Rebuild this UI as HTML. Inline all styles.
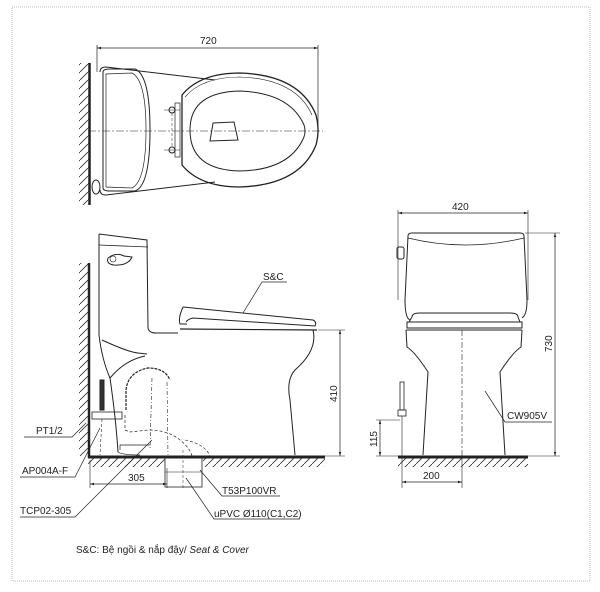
<!DOCTYPE html>
<html><head><meta charset="utf-8"><style>
html,body{margin:0;padding:0;background:#fff;width:600px;height:592px;overflow:hidden}
svg{display:block}
text{font-family:"Liberation Sans",sans-serif;fill:#222}
</style></head><body>
<svg width="600" height="592" viewBox="0 0 600 592" xmlns="http://www.w3.org/2000/svg">
<defs>
<pattern id="h" width="8" height="8" patternUnits="userSpaceOnUse"><path d="M0 8 L8 0" stroke="#333" stroke-width="0.8"/></pattern>
<marker id="a" viewBox="0 0 10 10" refX="10" refY="5" markerWidth="6" markerHeight="6" orient="auto-start-reverse"><path d="M0 2 L10 5 L0 8 z" fill="#222"/></marker>
</defs>
<rect x="12" y="7" width="578" height="574" fill="none" stroke="#bbb" stroke-width="1" stroke-dasharray="1 1"/>

<g fill="none" stroke="#222" stroke-width="1">
<!-- TOP VIEW -->
<rect x="79" y="63" width="10" height="142" fill="url(#h)" stroke="none"/>
<line x1="89.5" y1="63" x2="89.5" y2="205" stroke-width="2.5"/>
<line x1="97" y1="45" x2="97" y2="72" stroke-width="0.7"/>
<line x1="318" y1="45" x2="318" y2="132" stroke-width="0.7"/>
<line x1="97" y1="48" x2="318" y2="48" stroke-width="0.7" marker-start="url(#a)" marker-end="url(#a)"/>
<path d="M100 72 Q100 67 106 67 L215 80"/>
<path d="M100 190 Q100 195 106 195 L215 182"/>
<path d="M103 72 Q103 69 110 69 L135 69 Q150 75 150 130 Q150 186 135 191 L110 191 Q103 191 103 188 Z"/>
<path d="M106 74 L132 73 Q146 80 146 130 Q146 181 132 188 L106 187 Z" stroke-width="0.7"/>
<ellipse cx="96" cy="187" rx="4" ry="7"/>
<path d="M182 95 Q200 73 240 73 Q300 75 316 115 Q320 130 316 145 Q300 185 240 187 Q200 187 182 165 Z" stroke-width="1.3"/>
<path d="M185 97 Q202 77 240 77 Q296 79 312 115" stroke-width="0.6"/>
<path d="M190 130 Q190 92 240 91 Q290 93 304 125 Q306 131 304 137 Q290 170 240 171 Q190 170 190 130 Z"/>
<path d="M213 123 L234 122 L238 140 L210 141 Z"/>
<rect x="175" y="103" width="5" height="54" stroke-width="0.7"/>
<circle cx="172" cy="110" r="3"/><circle cx="172" cy="150" r="3"/>
<line x1="164" y1="110" x2="180" y2="110" stroke-width="0.5"/>
<line x1="164" y1="150" x2="180" y2="150" stroke-width="0.5"/>
<line x1="172" y1="113" x2="172" y2="147" stroke-width="0.5" stroke-dasharray="3 2"/>
<line x1="88" y1="131" x2="323" y2="131" stroke-width="0.6" stroke-dasharray="8 2 2 2"/>

<!-- SIDE VIEW -->
<rect x="79" y="263" width="9" height="193" fill="url(#h)" stroke="none"/>
<rect x="88" y="458" width="77" height="9" fill="url(#h)" stroke="none"/>
<rect x="203" y="458" width="122" height="9" fill="url(#h)" stroke="none"/>
<line x1="89" y1="263" x2="89" y2="458" stroke-width="2.5"/>
<line x1="88" y1="457" x2="325" y2="457" stroke-width="3"/>
<path d="M99 234 L147 240 L148 328 Q149 333 156 333 L178 333"/>
<line x1="99" y1="245" x2="148" y2="247" stroke-width="0.8"/>
<path d="M99 234 L99 335 Q102 360 110 378 Q116 420 118 452"/>
<path d="M108 258 Q116 252 124 256 L132 257 Q128 266 114 265 Q106 264 108 258 Z"/>
<circle cx="113" cy="259" r="3" stroke-width="0.6"/>
<path d="M102 340 Q128 352 138 353 L147 354"/>
<path d="M110 378 Q125 360 145 356"/>
<path d="M183 307 L313 320 Q317 322 315 326 L193 318 Q188 319 186 322"/>
<path d="M183 307 Q178 318 180 324 L187 324"/>
<line x1="180" y1="329" x2="317" y2="330" stroke-width="1.2"/>
<path d="M313 330 Q318 350 295 370 Q286 380 290 400 L295 455"/>
<path d="M118 452 Q122 455 140 455" stroke-width="0.7"/>
<!-- trapway -->
<path d="M126 410 L126 390 Q128 372 148 368 Q165 368 170 380" stroke-width="1.2" stroke-dasharray="3 1"/>
<path d="M125 415 L125 430 L130 432 L148 430 Q168 430 180 440 Q190 448 192 456" stroke-dasharray="3 2" stroke-width="0.7"/>
<line x1="152" y1="378" x2="150" y2="450" stroke-dasharray="4 2 1 2" stroke-width="0.6"/>
<line x1="167" y1="382" x2="168" y2="455" stroke-dasharray="4 2 1 2" stroke-width="0.6"/>
<path d="M185 440 Q205 444 210 456" stroke-dasharray="3 2" stroke-width="0.6"/>
<path d="M120 450 L120 445 L150 445" stroke-width="0.7"/>
<rect x="100" y="380" width="4" height="30" fill="#333"/>
<rect x="92" y="412" width="30" height="7" stroke-width="0.8"/>
<line x1="102" y1="419" x2="100" y2="455" stroke-dasharray="3 2" stroke-width="0.6"/>
<!-- drain pipe -->
<rect x="165" y="457" width="37" height="30" stroke-width="0.8"/>
<line x1="165" y1="472" x2="202" y2="472" stroke-width="0.6"/>
<line x1="183" y1="450" x2="183" y2="490" stroke-width="0.5" stroke-dasharray="3 2"/>
<!-- dims side -->
<line x1="318" y1="330" x2="345" y2="330" stroke-width="0.6"/>
<line x1="325" y1="456" x2="345" y2="456" stroke-width="0.6"/>
<line x1="340" y1="330" x2="340" y2="456" stroke-width="0.7" marker-start="url(#a)" marker-end="url(#a)"/>
<line x1="90" y1="460" x2="90" y2="488" stroke-width="0.6"/>
<line x1="167" y1="468" x2="167" y2="488" stroke-width="0.6"/>
<line x1="90" y1="484" x2="167" y2="484" stroke-width="0.7" marker-start="url(#a)" marker-end="url(#a)"/>
<!-- leaders -->
<polyline points="24,437 72,437 86,423" stroke-width="0.7"/>
<polyline points="20,477 75,477 100,428" stroke-width="0.7"/>
<polyline points="20,517 75,517 152,440" stroke-width="0.7"/>
<polyline points="280,496 222,496 200,470" stroke-width="0.7"/>
<polyline points="300,519 214,519 186,478" stroke-width="0.7"/>
<polyline points="287,282 262,282 243,313" stroke-width="0.7"/>

<!-- FRONT VIEW -->
<line x1="398" y1="210" x2="398" y2="300" stroke-width="0.6"/>
<line x1="528" y1="210" x2="528" y2="300" stroke-width="0.6"/>
<line x1="398" y1="213" x2="528" y2="213" stroke-width="0.7" marker-start="url(#a)" marker-end="url(#a)"/>
<path d="M408 236 Q408 233 412 233 L520 233 Q524 233 524 236 L527 300 Q527 315 522 318"/>
<path d="M408 236 L405 300 Q405 318 410 320"/>
<path d="M408 238 Q465 252 524 238" stroke-width="0.7"/>
<rect x="397" y="247" width="7" height="12" rx="2"/>
<path d="M412 317 Q412 313 420 313 L510 313 Q518 313 518 317 L520 322 L409 322 Z"/>
<path d="M407 322 L522 322 L522 328 L407 328 Z"/>
<path d="M406 330 L407 347 Q415 352 428 372 L423 455"/>
<path d="M522 330 L521 347 Q513 352 500 372 L505 455"/>
<line x1="406" y1="330" x2="522" y2="330"/>
<rect x="398" y="457" width="130" height="10" fill="url(#h)" stroke="none"/>
<line x1="398" y1="457" x2="528" y2="457" stroke-width="3"/>
<line x1="462" y1="330" x2="462" y2="460" stroke-width="0.6" stroke-dasharray="6 2 2 2"/>
<rect x="400" y="382" width="4" height="28" stroke-width="0.8"/>
<rect x="398" y="410" width="8" height="6" stroke-width="0.8"/>
<line x1="402" y1="416" x2="402" y2="488" stroke-width="0.6"/>
<line x1="462" y1="460" x2="462" y2="488" stroke-width="0.6"/>
<line x1="402" y1="482" x2="462" y2="482" stroke-width="0.7" marker-start="url(#a)" marker-end="url(#a)"/>
<line x1="376" y1="420" x2="400" y2="420" stroke-width="0.6"/>
<line x1="376" y1="456" x2="398" y2="456" stroke-width="0.6"/>
<line x1="380" y1="420" x2="380" y2="456" stroke-width="0.7" marker-start="url(#a)" marker-end="url(#a)"/>
<line x1="525" y1="233" x2="560" y2="233" stroke-width="0.6"/>
<line x1="528" y1="456" x2="560" y2="456" stroke-width="0.6"/>
<line x1="555" y1="233" x2="555" y2="456" stroke-width="0.7" marker-start="url(#a)" marker-end="url(#a)"/>
<polyline points="552,422 505,422 485,391" stroke-width="0.7"/>
</g>

<g font-size="10">
<text x="200" y="44">720</text>
<text x="452" y="210">420</text>
<text x="263" y="280">S&amp;C</text>
<text x="36" y="434">PT1/2</text>
<text x="22" y="474">AP004A-F</text>
<text x="20" y="514">TCP02-305</text>
<text x="128" y="481">305</text>
<text x="222" y="494">T53P100VR</text>
<text x="214" y="517">uPVC Ø110(C1,C2)</text>
<text x="507" y="419">CW905V</text>
<text x="423" y="479">200</text>
<text transform="translate(337,402) rotate(-90)">410</text>
<text transform="translate(552,352) rotate(-90)">730</text>
<text transform="translate(377,447) rotate(-90)">115</text>
<text x="76" y="553" fill="#333">S&amp;C: Bệ ngồi &amp; nắp đậy/ <tspan font-style="italic">Seat &amp; Cover</tspan></text>
</g>
</svg>
</body></html>
